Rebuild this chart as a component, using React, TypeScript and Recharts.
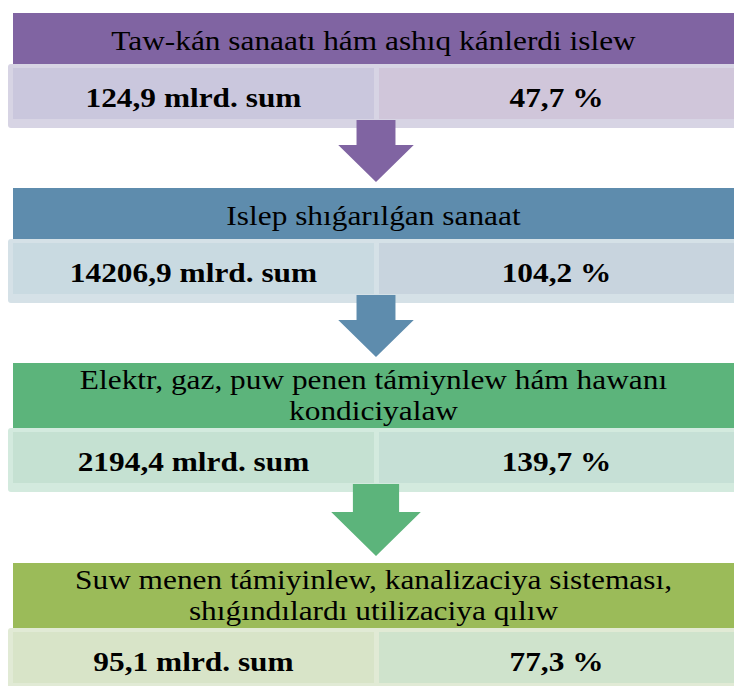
import React from "react";
import { BarChart, Bar, XAxis, YAxis } from "recharts";

// ---- data ----
const stageTitles: string[] = [
  "Taw-kán sanaatı hám ashıq kánlerdi islew",
  "Islep shıǵarılǵan sanaat",
  "Elektr, gaz, puw penen támiynlew hám hawanı\nkondiciyalaw",
  "Suw menen támiyinlew, kanalizaciya sisteması,\nshıǵındılardı utilizaciya qılıw",
];
const volumeMlrdSum: number[] = [124.9, 14206.9, 2194.4, 95.1];
const growthPercent: number[] = [47.7, 104.2, 139.7, 77.3];
const unitLabel = "mlrd. sum";

// ---- styles ----
const headerColors = ["#8064a2", "#5e8cad", "#5cb47b", "#9bbb59"];
const frameColors = ["#d7d4e4", "#d5e1e7", "#d3eade", "#e1ead5"];
const leftColors = ["#cac7dd", "#c9dae1", "#c5e1d2", "#d8e4c8"];
const rightColors = ["#d0c6da", "#c8d4de", "#c6e0d6", "#cfe3cc"];
const FONT = "'Liberation Serif', 'Times New Roman', Times, serif";
const W = 734;
const H = 763;

const fmt = (v: number) => v.toFixed(1).replace(".", ",");

// slot count derived from the number of title lines
const lineCount = (t: string) => t.split("\n").length;
const slots = stageTitles.map((t) => lineCount(t) + 6);
const row: Record<string, number | string> = { name: "flow" };
slots.forEach((s, i) => (row[`b${i}`] = s));
const data = [row];
const total = slots.reduce((a, b) => a + b, 0);

const textStyle: React.CSSProperties = { fontFamily: FONT, fontSize: 28 };
const boldStyle: React.CSSProperties = { fontFamily: FONT, fontSize: 28, fontWeight: 700 };

function Block(props: any) {
  const { x, y, width, height, idx } = props;
  const top = Math.min(y, y + height);
  const segBottom = top + Math.abs(height);
  const lines = stageTitles[idx].split("\n");
  const n = lines.length;
  const headH = 37 + 14 * n;
  const subTop = top + headH;
  const subH = 65;
  const subBottom = subTop + subH;
  const left = x + 8;
  const right = x + width + 10;
  const mid = x + 376;
  const hc = headerColors[idx];
  const isLast = idx === stageTitles.length - 1;
  const gap = segBottom - subBottom;
  const headTop = subBottom + gap * 0.27;
  const apex = segBottom - gap * 0.1;
  const hh = gap * 0.64;
  const hs = gap * 0.33;
  const cx = mid;
  const headCx = (x + 13 + x + width) / 2;
  const leftCx = (left + 5 + mid - 2) / 2;
  const rightCx = (mid + 3 + x + width) / 2;
  const baseOff = 14.5 - 3 * n;
  return (
    <g>
      {/* header */}
      <rect x={x + 13} y={top} width={width} height={headH} fill={hc} />
      {lines.map((ln, k) => (
        <text
          key={k}
          x={0}
          y={0}
          textAnchor="middle"
          style={textStyle}
          fill="#000"
          transform={`translate(${headCx},${top + headH / 2 + baseOff + (k - (n - 1) / 2) * 31}) scale(1.12,1)`}
        >
          {ln}
        </text>
      ))}
      {/* values row */}
      <rect x={left} y={subTop} width={right - left} height={subH - 1} rx={3} fill={frameColors[idx]} />
      <rect x={left + 5} y={subTop + 4} width={mid - 2 - (left + 5)} height={51} fill={leftColors[idx]} />
      <rect x={mid + 3} y={subTop + 4} width={right - mid} height={51} fill={rightColors[idx]} />
      <text
        x={0}
        y={0}
        textAnchor="middle"
        style={boldStyle}
        fill="#000"
        transform={`translate(${leftCx},${subTop + 43}) scale(1.12,1)`}
      >
        {`${fmt(volumeMlrdSum[idx])} ${unitLabel}`}
      </text>
      <text
        x={0}
        y={0}
        textAnchor="middle"
        style={boldStyle}
        fill="#000"
        transform={`translate(${rightCx},${subTop + 43}) scale(1.12,1)`}
      >
        {`${fmt(growthPercent[idx])} %`}
      </text>
      {/* arrow */}
      {!isLast && (
        <path
          d={`M${cx - hs},${subTop + 56} L${cx + hs},${subTop + 56} L${cx + hs},${headTop} L${cx + hh},${headTop} L${cx},${apex} L${cx - hh},${headTop} L${cx - hs},${headTop} Z`}
          fill={hc}
        />
      )}
    </g>
  );
}

export default function App() {
  return (
    <div
      style={{
        position: "absolute",
        left: 0,
        top: 0,
        width: W,
        height: 686,
        overflow: "hidden",
        background: "#fff",
        fontFamily: FONT,
      }}
    >
      <BarChart
        width={W}
        height={H}
        data={data}
        margin={{ top: 13, right: 0, bottom: 0, left: 0 }}
        barCategoryGap={0}
        style={{ fontFamily: FONT }}
      >
        <XAxis dataKey="name" hide />
        <YAxis type="number" hide reversed domain={[0, total]} />
        {slots.map((_, i) => (
          <Bar
            key={i}
            dataKey={`b${i}`}
            stackId="flow"
            isAnimationActive={false}
            shape={(p: any) => <Block {...p} idx={i} />}
          />
        ))}
      </BarChart>
    </div>
  );
}
